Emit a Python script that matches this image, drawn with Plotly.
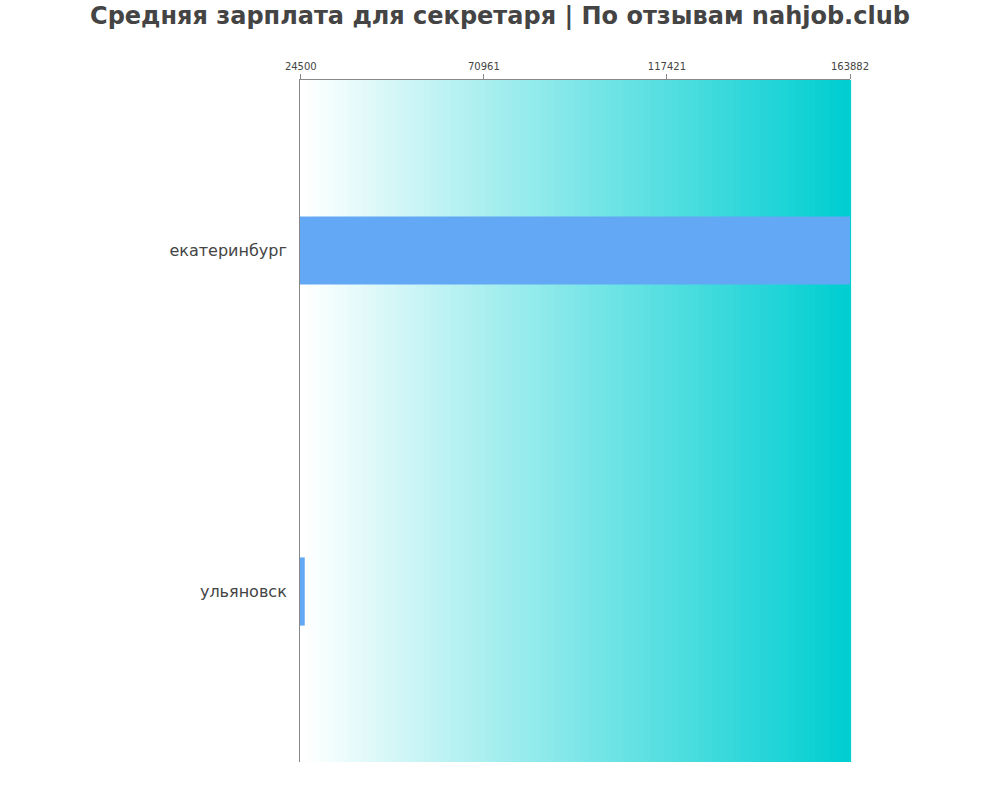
import plotly.graph_objects as go

cities = ["екатеринбург", "ульяновск"]
salaries = [163882, 25500]
tick_values = [24500, 70961, 117421, 163882]
tick_labels = ["24500", "70961", "117421", "163882"]

x_min = 24300
x_max = 163882

fig = go.Figure()

# bars start at the left edge of the axis
fig.add_trace(
    go.Bar(
        x=[v - x_min for v in salaries],
        y=cities,
        orientation="h",
        base=x_min,
        width=0.2,
        marker=dict(color="#63a8f4", line=dict(width=0)),
        customdata=salaries,
        hovertemplate="%{y}: %{customdata}<extra></extra>",
    )
)

# background gradient: white -> dark turquoise
steps = 80
for i in range(steps):
    t = i / (steps - 1)
    r = round(255 + (0 - 255) * t)
    g = round(255 + (206 - 255) * t)
    b = round(255 + (209 - 255) * t)
    fig.add_shape(
        type="rect",
        xref="x domain",
        yref="y domain",
        x0=i / steps,
        x1=(i + 1) / steps + 0.002,
        y0=0,
        y1=1,
        fillcolor=f"rgb({r},{g},{b})",
        line=dict(width=0),
        layer="below",
    )

fig.update_layout(
    width=1000,
    height=800,
    margin=dict(l=300, r=150, t=80, b=38),
    paper_bgcolor="white",
    plot_bgcolor="white",
    showlegend=False,
    font=dict(family="DejaVu Sans", color="#444444"),
    title=dict(
        text="<b>Средняя зарплата для секретаря | По отзывам nahjob.club</b>",
        x=0.5,
        xanchor="center",
        y=0.981,
        yanchor="middle",
        font=dict(family="DejaVu Sans", size=24, color="#444444"),
    ),
)
fig.update_xaxes(
    side="top",
    range=[x_min, x_max],
    tickvals=tick_values,
    ticktext=tick_labels,
    tickfont=dict(size=10, color="#444444"),
    showgrid=False,
    zeroline=False,
    showline=True,
    linecolor="#888888",
    linewidth=1,
    ticks="outside",
    ticklen=5,
    tickcolor="#888888",
)
fig.update_yaxes(
    categoryorder="array",
    categoryarray=cities,
    autorange="reversed",
    tickfont=dict(size=16, color="#444444"),
    showgrid=False,
    zeroline=False,
    showline=True,
    linecolor="#888888",
    linewidth=1,
    ticks="",
    ticklabelstandoff=9,
)

# drop the default page margin so the figure sits at the top-left corner
fig.write_html(
    "out.html",
    config={"displayModeBar": False},
    post_script="document.body.style.margin='0';",
)
